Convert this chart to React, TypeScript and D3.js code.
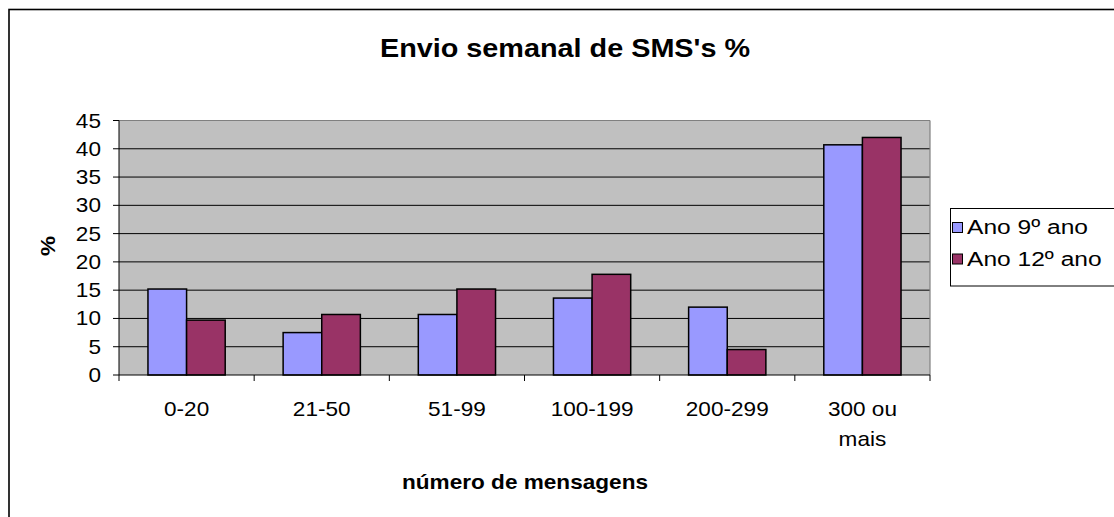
import React from "react";
import * as d3 from "d3";

const categories = ["0-20", "21-50", "51-99", "100-199", "200-299", "300 ou\nmais"];
const seriesNames = ["Ano 9º ano", "Ano 12º ano"];
const values9 = [15.2, 7.5, 10.7, 13.6, 12.0, 40.7];
const values12 = [9.7, 10.7, 15.2, 17.8, 4.5, 42.0];
const yTicks = [0, 5, 10, 15, 20, 25, 30, 35, 40, 45];
const colors = ["#9999FF", "#993366"];

const W = 1114;
const H = 517;
const FONT = "'Liberation Sans', Arial, sans-serif";
const SX = 1.13;

function T({ x, y, size, bold, anchor, children, rotate, sx }: any) {
  const s = sx || SX;
  const tr = rotate
    ? `translate(${x},${y}) rotate(${rotate}) scale(${s},1)`
    : `translate(${x},${y}) scale(${s},1)`;
  return (
    <text
      transform={tr}
      fontFamily={FONT}
      fontSize={size}
      fontWeight={bold ? "bold" : "normal"}
      textAnchor={anchor || "start"}
      fill="#000"
    >
      {children}
    </text>
  );
}

export default function App() {
  const left = 119;
  const right = 930;
  const top = 120.5;
  const bottom = 375;

  const x = d3.scaleBand<string>().domain(categories).range([left, right]).padding(0);
  const x1 = d3
    .scaleBand<string>()
    .domain(seriesNames)
    .range([0, x.bandwidth()])
    .paddingInner(0)
    .paddingOuter(0.75);
  const y = d3.scaleLinear().domain([0, 45]).range([bottom, top]);

  const data = [values9, values12];
  const boundaries = [...categories.map((c) => x(c) as number), right];

  return (
    <svg
      width={W}
      height={H}
      style={{ position: "absolute", left: 0, top: 0, background: "#fff" }}
    >
      <rect x={0} y={0} width={W} height={H} fill="#fff" />
      <rect x={9} y={9.5} width={W + 20} height={H + 20} fill="none" stroke="#000" strokeWidth={1.6} />

      <T x={565} y={56.5} size={25.5} bold anchor="middle">
        Envio semanal de SMS's %
      </T>

      <rect x={left} y={top} width={right - left} height={bottom - top} fill="#C0C0C0" />
      {yTicks
        .filter((t) => t > 0 && t < 45)
        .map((t) => (
          <line key={t} x1={left} x2={right} y1={y(t)} y2={y(t)} stroke="#000" strokeWidth={1} />
        ))}
      <line x1={left} x2={right} y1={top} y2={top} stroke="#808080" strokeWidth={1.2} />
      <line x1={right} x2={right} y1={top} y2={bottom} stroke="#808080" strokeWidth={1.2} />

      {data.map((vals, si) =>
        vals.map((v, i) => {
          const bx = (x(categories[i]) as number) + (x1(seriesNames[si]) as number);
          return (
            <rect
              key={`${si}-${i}`}
              x={bx}
              y={y(v)}
              width={x1.bandwidth()}
              height={bottom - y(v)}
              fill={colors[si]}
              stroke="#000"
              strokeWidth={1.5}
            />
          );
        })
      )}

      <line x1={left} x2={left} y1={top} y2={bottom} stroke="#000" strokeWidth={1} />
      <line x1={left} x2={right} y1={bottom} y2={bottom} stroke="#000" strokeWidth={1} />
      {yTicks.map((t) => (
        <g key={`yt${t}`}>
          <line x1={left - 6} x2={left} y1={y(t)} y2={y(t)} stroke="#000" strokeWidth={1} />
          <T x={101} y={y(t) + 7} size={20} anchor="end">
            {t}
          </T>
        </g>
      ))}
      {boundaries.map((b, i) => (
        <line key={`xt${i}`} x1={b} x2={b} y1={bottom} y2={bottom + 6} stroke="#000" strokeWidth={1} />
      ))}
      {categories.map((c) => {
        const cx = (x(c) as number) + x.bandwidth() / 2;
        const lines = c.split("\n");
        return (
          <g key={`xl${c}`}>
            {lines.map((ln, li) => (
              <T key={li} x={cx} y={415.5 + li * 30} size={20} anchor="middle">
                {ln}
              </T>
            ))}
          </g>
        );
      })}

      <T x={525} y={489} size={20} bold anchor="middle">
        número de mensagens
      </T>
      <T x={55} y={246} size={20} bold anchor="middle" rotate={-90}>
        %
      </T>

      <rect x={950.5} y={208.5} width={200} height={77.5} fill="#fff" stroke="#000" strokeWidth={1} />
      {seriesNames.map((s, i) => (
        <g key={s}>
          <rect
            x={952.5}
            y={222.5 + i * 31.5}
            width={10}
            height={10}
            fill={colors[i]}
            stroke="#000"
            strokeWidth={1}
          />
          <T x={967} y={234 + i * 32} size={21} anchor="start" sx={1.17}>
            {s}
          </T>
        </g>
      ))}
    </svg>
  );
}
